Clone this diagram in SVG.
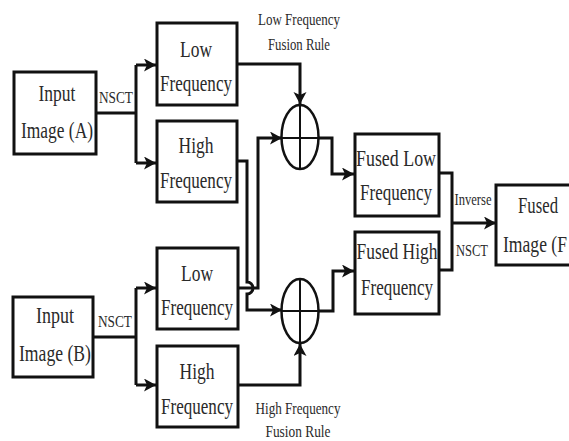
<svg xmlns="http://www.w3.org/2000/svg" width="569" height="441" viewBox="0 0 569 441">
<style>
.box{fill:#fff;stroke:#111;stroke-width:3}
.ln{fill:none;stroke:#111;stroke-width:3;stroke-linejoin:miter}
.ar{marker-end:url(#ah)}
.t{font-family:"Liberation Serif","Times New Roman",serif;fill:#2a2a2a;text-anchor:middle}
.b{font-size:23px}
.s{font-size:17px}
.sum{fill:#fff;stroke:#111;stroke-width:2.5}
.x{stroke:#111;stroke-width:2}
</style>
<defs>
<marker id="ah" markerUnits="userSpaceOnUse" markerWidth="14" markerHeight="14" refX="12" refY="6.5" orient="auto">
<path d="M0,0 L12,6.5 L0,13 L3,6.5 z" fill="#111"/>
</marker>
</defs>
<rect width="569" height="441" fill="#fff"/>

<g id="connectors">
<path class="ln" d="M96,113 H136"/>
<path class="ln" d="M136,65 V163"/>
<path class="ln ar" d="M136,65 H156"/>
<path class="ln ar" d="M136,163 H156"/>
<path class="ln" d="M93,337 H136"/>
<path class="ln" d="M136,288 V385"/>
<path class="ln ar" d="M136,288 H156"/>
<path class="ln ar" d="M136,385 H156"/>
<path class="ln ar" d="M237,64 H300 V104"/>
<path class="ln ar" d="M238,288 H258 V138 H282"/>
<path class="ln ar" d="M237,161 H247 V282 A6,6 0 0 1 247,294 V310 H282"/>
<path class="ln ar" d="M238,385 H300 V344"/>
<path class="ln ar" d="M319,138 H332 V174 H354"/>
<path class="ln ar" d="M319,311 H333 V271 H354"/>
<path class="ln" d="M439,173 H452 V270 H439"/>
<path class="ln ar" d="M452,223 H496"/>
</g>

<g id="nsct-a"><text class="t s" x="116" y="103" textLength="34" lengthAdjust="spacingAndGlyphs">NSCT</text></g>
<g id="nsct-b"><text class="t s" x="115" y="327" textLength="34" lengthAdjust="spacingAndGlyphs">NSCT</text></g>
<g id="inverse-nsct">
<text class="t s" x="473" y="205" textLength="37" lengthAdjust="spacingAndGlyphs">Inverse</text>
<text class="t s" x="472" y="256" textLength="32" lengthAdjust="spacingAndGlyphs">NSCT</text>
</g>
<g id="low-rule-label">
<text class="t s" x="299" y="25" textLength="82" lengthAdjust="spacingAndGlyphs">Low Frequency</text>
<text class="t s" x="299" y="50" textLength="62" lengthAdjust="spacingAndGlyphs">Fusion Rule</text>
</g>
<g id="high-rule-label">
<text class="t s" x="298" y="414" textLength="85" lengthAdjust="spacingAndGlyphs">High Frequency</text>
<text class="t s" x="298" y="437" textLength="65" lengthAdjust="spacingAndGlyphs">Fusion Rule</text>
</g>

<g id="input-a">
<rect class="box" x="14" y="72" width="82" height="82"/>
<text class="t b" x="57" y="101" textLength="37" lengthAdjust="spacingAndGlyphs">Input</text>
<text class="t b" x="57" y="138" textLength="72" lengthAdjust="spacingAndGlyphs">Image (A)</text>
</g>
<g id="input-b">
<rect class="box" x="13" y="297" width="80" height="80"/>
<text class="t b" x="55" y="323" textLength="38" lengthAdjust="spacingAndGlyphs">Input</text>
<text class="t b" x="55" y="361" textLength="72" lengthAdjust="spacingAndGlyphs">Image (B)</text>
</g>
<g id="low-a">
<rect class="box" x="157" y="23" width="80" height="82"/>
<text class="t b" x="196" y="57" textLength="32" lengthAdjust="spacingAndGlyphs">Low</text>
<text class="t b" x="196" y="91" textLength="72" lengthAdjust="spacingAndGlyphs">Frequency</text>
</g>
<g id="high-a">
<rect class="box" x="157" y="121" width="80" height="81"/>
<text class="t b" x="196" y="153" textLength="35" lengthAdjust="spacingAndGlyphs">High</text>
<text class="t b" x="196" y="188" textLength="72" lengthAdjust="spacingAndGlyphs">Frequency</text>
</g>
<g id="low-b">
<rect class="box" x="157" y="248" width="81" height="81"/>
<text class="t b" x="197" y="281" textLength="32" lengthAdjust="spacingAndGlyphs">Low</text>
<text class="t b" x="197" y="315" textLength="72" lengthAdjust="spacingAndGlyphs">Frequency</text>
</g>
<g id="high-b">
<rect class="box" x="157" y="346" width="81" height="81"/>
<text class="t b" x="197" y="379" textLength="35" lengthAdjust="spacingAndGlyphs">High</text>
<text class="t b" x="197" y="414" textLength="72" lengthAdjust="spacingAndGlyphs">Frequency</text>
</g>
<g id="sum-low">
<ellipse class="sum" cx="300" cy="137" rx="18.5" ry="32"/>
<path class="x" d="M300,105 V169 M281.5,138 H318.5"/>
</g>
<g id="sum-high">
<ellipse class="sum" cx="300" cy="311" rx="18.5" ry="32"/>
<path class="x" d="M300,279 V343 M281.5,311 H318.5"/>
</g>
<g id="fused-low">
<rect class="box" x="355" y="134" width="84" height="82"/>
<text class="t b" x="396" y="166" textLength="80" lengthAdjust="spacingAndGlyphs">Fused Low</text>
<text class="t b" x="396" y="200" textLength="72" lengthAdjust="spacingAndGlyphs">Frequency</text>
</g>
<g id="fused-high">
<rect class="box" x="355" y="232" width="84" height="82"/>
<text class="t b" x="397" y="259" textLength="81" lengthAdjust="spacingAndGlyphs">Fused High</text>
<text class="t b" x="397" y="295" textLength="72" lengthAdjust="spacingAndGlyphs">Frequency</text>
</g>
<g id="fused-image">
<rect class="box" x="496" y="185" width="90" height="80"/>
<text class="t b" x="538" y="213" textLength="40" lengthAdjust="spacingAndGlyphs">Fused</text>
<text class="t b" x="535" y="252" textLength="64" lengthAdjust="spacingAndGlyphs">Image (F</text>
</g>
</svg>
